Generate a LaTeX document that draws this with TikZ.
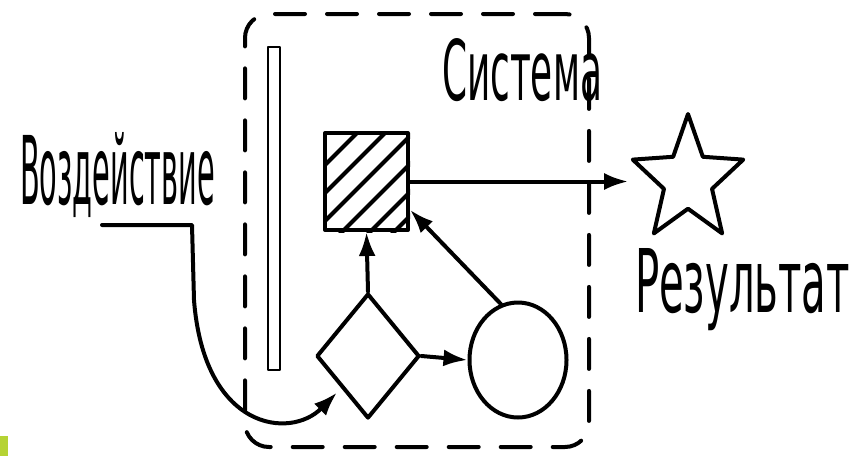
\documentclass[tikz,border=0pt]{standalone}
\usepackage{fontspec}
\setmainfont{DejaVu Sans}
\usetikzlibrary{arrows.meta,shapes.geometric}
\definecolor{cornerlime}{HTML}{B5D334}
\begin{document}
\begin{tikzpicture}[x=1pt,y=-1pt, line width=4pt, line cap=round, line join=round,
  arr/.style={-{Latex[length=24pt,width=17pt]}},
  shp/.style={draw, inner sep=0pt},
  lbl/.style={inner sep=0pt, anchor=base west}]
\useasboundingbox (0,0) rectangle (865,456);
\fill[cornerlime] (0,436) rectangle (8,456);
% system boundary
\node[shp, rectangle, rounded corners=24pt, dash pattern=on 30pt off 22pt,
      minimum width=344pt, minimum height=433pt] (sys) at (417,230.5) {};
% thin bar
\node[shp, rectangle, line width=2.8pt, minimum width=12pt, minimum height=323pt] (bar) at (274,208.5) {};
% hatched square
\node[shp, rectangle, minimum width=83pt, minimum height=97pt] (sq) at (366.5,181.5) {};
\begin{scope}
  \clip (sq.south west) rectangle (sq.north east);
  \foreach \c in {490,518,546,574,602,626}
    \draw ({\c-250},250) -- ({\c-110},110);
\end{scope}
% diamond, circle, star
\node[shp, diamond, minimum width=103pt, minimum height=125pt] (dm) at (368,356) {};
\node[shp, ellipse, minimum width=97pt, minimum height=115pt] (ci) at (518,360) {};
\begin{scope}[shift={(688,180)}, xscale=0.88]
  \node[shp, star, star points=5, star point ratio=2.3, minimum size=132pt, transform shape] (st) at (0,0) {};
\end{scope}
% labels
\node[lbl] (tsys) at (440,100) {\resizebox{160pt}{62pt}{Система}};
\node[lbl] (tin) at (18,204) {\resizebox{195pt}{72pt}{Воздействие}};
\node[lbl] (tres) at (633,312) {\resizebox{215pt}{64pt}{Результат}};
% connectors
\coordinate (inp) at (102,225);
\draw[arr, shorten >=6pt] (inp) -- (192,225) -- (194,300)
   .. controls (204,430) and (290,440) .. (dm.south west);
\draw[arr] (dm.north) -- (sq.south);
\draw[arr] (dm.east) -- (ci.west);
\draw[arr] (ci.107) -- (sq.-33);
\draw[arr] (sq.east) -- (sq.east -| st.outer point 2);
\end{tikzpicture}
\end{document}
